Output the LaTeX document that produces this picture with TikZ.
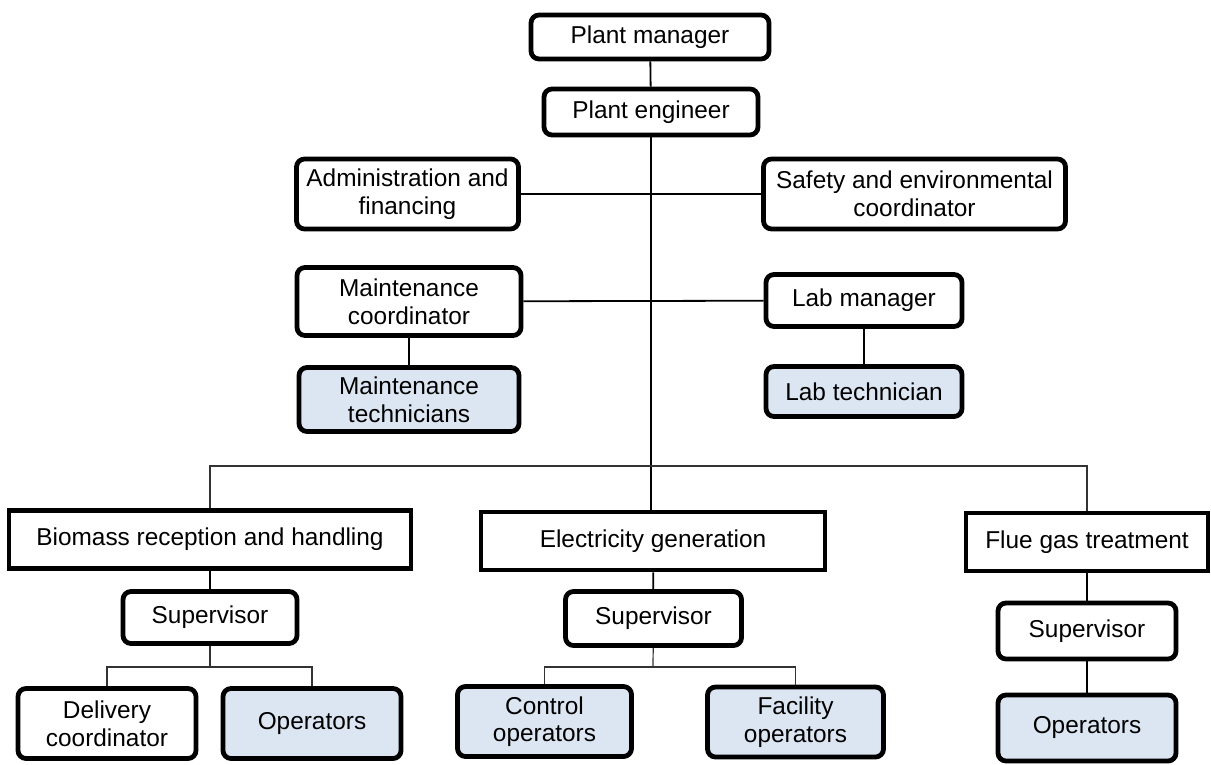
\documentclass[tikz,border=0pt]{standalone}
\usepackage{fontspec}
\setmainfont{Liberation Sans}
\usetikzlibrary{positioning}
\tikzset{font=\fontsize{12.2}{13.8}\selectfont}
\definecolor{staffblue}{RGB}{220,230,242}
\tikzset{
  post/.style={draw, line width=2.4pt, rounded corners=4pt, fill=white,
    align=center, inner sep=2pt},
  staff/.style={post, fill=staffblue},
  dept/.style={post, rounded corners=0pt},
  link/.style={line width=0.9pt},
  bus/.style={line width=0.6pt, black!80}
}

\begin{document}
\begin{tikzpicture}[x=0.5pt,y=-0.5pt]
\useasboundingbox (0,0) rectangle (1211,765);
% management
\node[post, minimum width=119pt, minimum height=22pt] (pm) at (650,37) {Plant manager};
\node[post, minimum width=107pt, minimum height=23pt] (pe) at (651,112) {Plant engineer};
\node[post, minimum width=111pt, minimum height=35pt] (adm) at (407.5,194) {Administration and\\financing};
\node[post, minimum width=151pt, minimum height=35pt] (saf) at (914.5,194) {Safety and environmental\\coordinator};
\node[post, minimum width=112pt, minimum height=34pt] (mco) at (409,301.5) {Maintenance\\coordinator};
\node[post, minimum width=98pt, minimum height=26pt] (lab) at (864,300.5) {Lab manager};
\node[staff, minimum width=110pt, minimum height=32pt] (mtec) at (409,399.5) {Maintenance\\technicians};
\node[staff, minimum width=98pt, minimum height=25pt] (ltec) at (864,391.5) {Lab technician};
% departments
\node[dept, minimum width=201pt, minimum height=29pt] (bio) at (210,539.5) {Biomass reception and handling};
\node[dept, minimum width=172pt, minimum height=29pt] (elec) at (653,541) {Electricity generation};
\node[dept, minimum width=121pt, minimum height=29pt] (flue) at (1087,542) {Flue gas treatment};
\node[post, minimum width=87pt, minimum height=26pt] (sup1) at (210,617.5) {Supervisor};
\node[post, minimum width=88pt, minimum height=27pt] (sup2) at (653.5,618.5) {Supervisor};
\node[post, minimum width=89pt, minimum height=28pt] (sup3) at (1087,631) {Supervisor};
\node[post, minimum width=89pt, minimum height=35pt] (del) at (107,723.5) {Delivery\\coordinator};
\node[staff, minimum width=89pt, minimum height=35pt] (ops1) at (312,723.5) {Operators};
\node[staff, minimum width=87pt, minimum height=35pt] (ctrl) at (544.5,721.5) {Control\\operators};
\node[staff, minimum width=88pt, minimum height=35pt] (fac) at (795.5,722) {Facility\\operators};
\node[staff, minimum width=89pt, minimum height=33pt] (ops3) at (1087,728) {Operators};

\coordinate (hub) at (651,466);
\coordinate (j1) at (210,667);
\coordinate (j2) at (653,667);

% trunk
\draw[link] (pm) -- (pe);
\draw[link] (pe) -- (hub |- elec.north);
\draw[link] (adm) -- (saf);
\draw[link] (mco) -- (lab);
\draw[link] (mco) -- (mtec);
\draw[link] (lab) -- (ltec);
\draw[bus] (bio.north) |- (hub) -| (flue.north);
% branches
\draw[link] (bio) -- (sup1);
\draw[link] (elec) -- (sup2);
\draw[link] (flue) -- (sup3);
\draw[link] (sup3) -- (ops3);
\draw[bus] (sup1) -- (j1);
\draw[bus] (del.north) |- (j1) -| (ops1.north);
\draw[bus] (sup2) -- (j2);
\draw[bus] (ctrl.north) |- (j2) -| (fac.north);
\end{tikzpicture}
\end{document}
